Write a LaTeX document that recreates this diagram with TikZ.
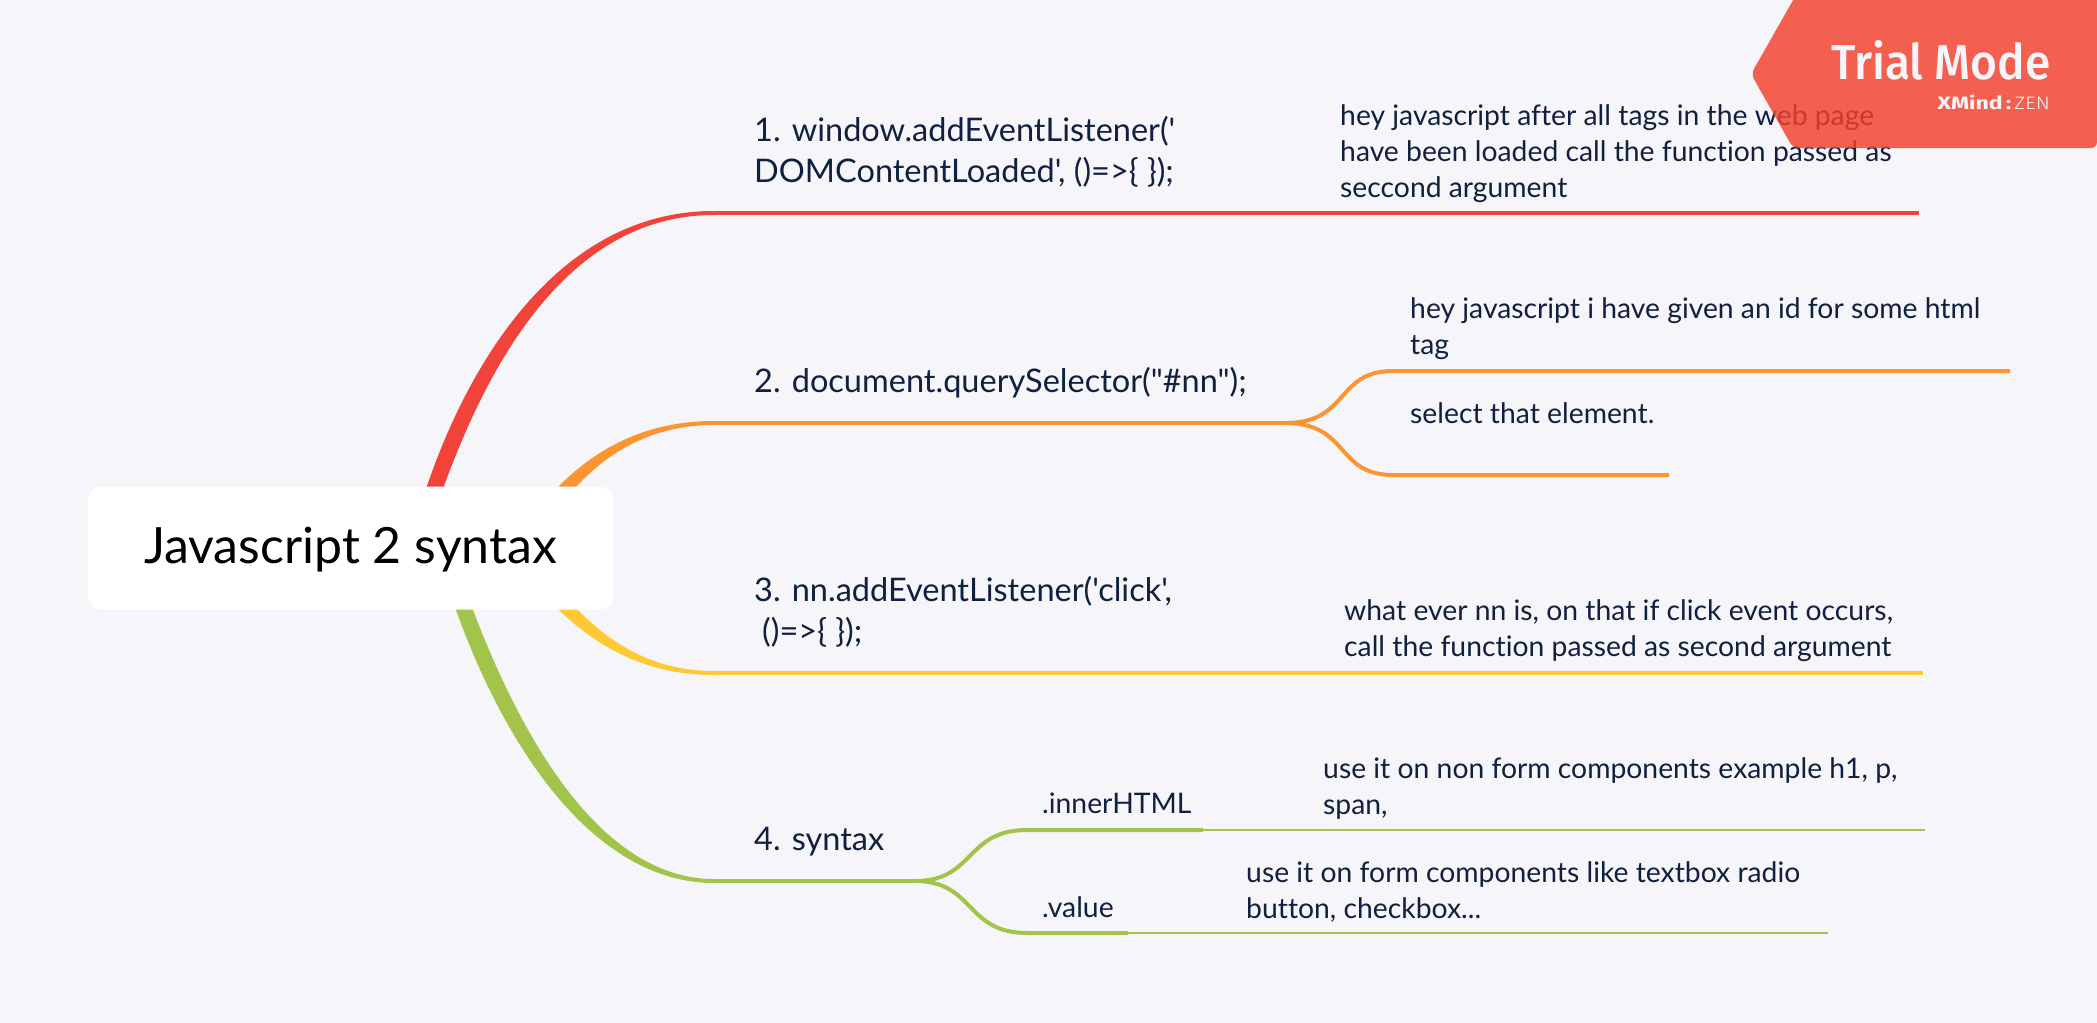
\documentclass[tikz,border=0pt]{standalone}
\usepackage{fontspec}
\setmainfont{Lato}[Ligatures={TeXOff,NoCommon}]
\newfontfamily\bannerfont{Fira Sans Medium}[FakeStretch=0.94]
\newfontfamily\xmindfont{Fira Sans}[FakeStretch=1.28]
\newfontfamily\zenfont{Fira Sans Light}[FakeStretch=1.16]
\usetikzlibrary{calc}
\definecolor{bgc}{HTML}{F5F5FA}
\definecolor{inkc}{HTML}{0F2040}
\definecolor{redc}{HTML}{F2433A}
\definecolor{orangec}{HTML}{FB9530}
\definecolor{yellowc}{HTML}{FFC936}
\definecolor{greenc}{HTML}{A3C44A}
\definecolor{bannerc}{HTML}{F4402A}
\pgfdeclarelayer{bglayer}
\pgfdeclarelayer{edges}
\pgfdeclarelayer{top}
\pgfsetlayers{bglayer,edges,main,top}
\tikzset{
  topic/.style={anchor=west,inner sep=0pt,align=left,text=inkc,font=\fontsize{32.5}{41}\selectfont},
  note/.style={anchor=west,inner sep=0pt,align=left,text=inkc,font=\fontsize{28.3}{36}\selectfont},
  leaf/.style={line width=#1,line cap=butt},
}
\begin{document}
\begin{tikzpicture}[x=1pt,y=-1pt]
\useasboundingbox (0,0) rectangle (2097,1023);
\begin{pgfonlayer}{bglayer}
\fill[bgc] (0,0) rectangle (2097,1023);
\end{pgfonlayer}

\node[fill=white,rounded corners=14pt,minimum width=526pt,minimum height=123pt,inner sep=0pt,text=black,font=\fontsize{50}{56}\selectfont] (root) at (350.5,548) {\raisebox{-15pt}[0pt][0pt]{Javascript 2 syntax}};

\node[topic] (t1) at (754,152) {1. window.addEventListener('\\DOMContentLoaded', ()=>\{ \});};
\node[topic] (t2) at (754,382.5) {2. document.querySelector("\#nn");};
\node[topic] (t3) at (754,612) {3. nn.addEventListener('click',\\\hspace*{8pt}()=>\{ \});};
\node[topic] (t4) at (754,841.5) {4. syntax};
\node[note] (s1) at (1042,803) {.innerHTML};
\node[note] (s2) at (1042,907.5) {.value};
\node[note] (n1) at (1340,153.5) {hey javascript after all tags in the web page\\have been loaded call the function passed as\\seccond argument};
\node[note] (n2) at (1410,329) {hey javascript i have given an id for some html\\tag};
\node[note] (n3) at (1410,413.5) {select that element.};
\node[note] (n4) at (1344,631) {what ever nn is, on that if click event occurs,\\call the function passed as second argument};
\node[note] (n5) at (1323,788.5) {use it on non form components example h1, p,\\span,};
\node[note] (n6) at (1246,891.5) {use it on form components like textbox radio\\button, checkbox...};

% free ends
\coordinate (rA) at (714,213);
\coordinate (rE) at (1919,213);
\coordinate (oA) at (714,423);
\coordinate (oJ) at (1285,423);
\coordinate (oU) at (1393,371);
\coordinate (oUe) at (2010,371);
\coordinate (oL) at (1393,475);
\coordinate (oLe) at (1669,475);
\coordinate (yA) at (714,673);
\coordinate (yE) at (1923,673);
\coordinate (gA) at (714,881);
\coordinate (gJ) at (915,881);
\coordinate (gU) at (1027,830);
\coordinate (gUm) at (1203,830);
\coordinate (gUe) at (1925,830);
\coordinate (gL) at (1027,933);
\coordinate (gLm) at (1128,933);
\coordinate (gLe) at (1828,933);

\begin{pgfonlayer}{edges}
% tapered main branches, running from under the root
\fill[redc] ($(rA)+(0,-2)$) .. controls (560,211) and (470,360) .. (427,486) -- ($(root.center)+(60,0)$) -- (444,486) .. controls (490,360) and (570,215) .. ($(rA)+(0,2)$) -- cycle;
\fill[orangec] ($(oA)+(0,-2)$) .. controls (650,421) and (600,445) .. (559,486) -- ($(root.center)+(190,0)$) -- (577,486) .. controls (610,450) and (655,425) .. ($(oA)+(0,2)$) -- cycle;
\fill[yellowc] ($(yA)+(0,2)$) .. controls (650,675) and (600,650) .. (558,609) -- ($(root.center)+(190,0)$) -- (577,609) .. controls (612,645) and (655,671) .. ($(yA)+(0,-2)$) -- cycle;
\fill[greenc] ($(gA)+(0,2)$) .. controls (600,883) and (510,760) .. (456,610) -- ($(root.center)+(100,0)$) -- (473,610) .. controls (530,760) and (610,879) .. ($(gA)+(0,-2)$) -- cycle;
% red
\draw[redc,leaf=4pt] (rA) -- (rE);
% orange
\draw[orangec,leaf=4pt] (oA) -- (oJ);
\draw[orangec,leaf=4pt] (oJ) .. controls (1350,423) and (1335,371) .. (oU) -- (oUe);
\draw[orangec,leaf=4pt] (oJ) .. controls (1350,423) and (1335,475) .. (oL) -- (oLe);
% yellow
\draw[yellowc,leaf=4pt] (yA) -- (yE);
% green
\draw[greenc,leaf=4pt] (gA) -- (gJ);
\draw[greenc,leaf=4pt] (gJ) .. controls (975,881) and (965,830) .. (gU) -- (gUm);
\draw[greenc,leaf=4pt] (gJ) .. controls (975,881) and (965,933) .. (gL) -- (gLm);
\draw[greenc,leaf=2.5pt] (gUm) -- (gUe);
\draw[greenc,leaf=2.5pt] (gLm) -- (gLe);
\end{pgfonlayer}

\begin{pgfonlayer}{top}
\fill[bannerc,opacity=.82,rounded corners=6pt] (1800,-12) -- (2097,-12) -- (2097,148) -- (1793,148) -- (1751,74) -- cycle;
\node[anchor=base east,inner sep=0pt,text=bgc,font=\bannerfont\fontsize{49}{50}\selectfont] (trial) at (2051,79) {Trial Mode};
\node[anchor=base east,inner sep=0pt,text=bgc,font=\fontsize{18}{20}\selectfont] (xmind) at (2050,109) {{\xmindfont\bfseries XMind\,:\,}{\zenfont ZEN}};
\end{pgfonlayer}
\end{tikzpicture}
\end{document}
